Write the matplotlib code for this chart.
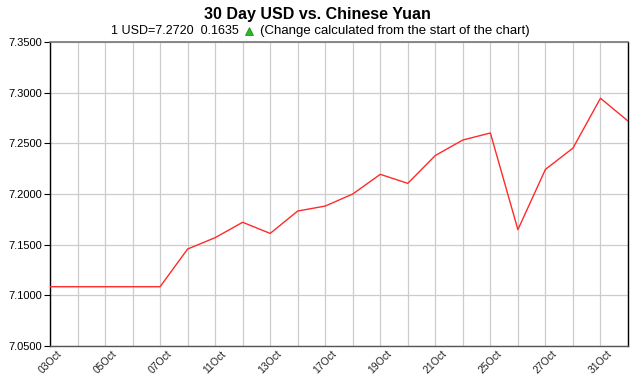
import matplotlib
matplotlib.use("Agg")
import matplotlib.pyplot as plt

# trading days, 03 Oct -> 01 Nov
dates = ["03Oct", "04Oct", "05Oct", "06Oct", "07Oct", "10Oct", "11Oct", "12Oct",
         "13Oct", "14Oct", "17Oct", "18Oct", "19Oct", "20Oct", "21Oct", "24Oct",
         "25Oct", "26Oct", "27Oct", "28Oct", "31Oct", "01Nov"]
rates = [7.1085, 7.1085, 7.1085, 7.1085, 7.1085, 7.1457, 7.1569, 7.1721,
         7.1611, 7.1832, 7.1881, 7.2000, 7.2194, 7.2105, 7.2380, 7.2533,
         7.2602, 7.1648, 7.2243, 7.2453, 7.2945, 7.2720]
yticks = [7.05, 7.10, 7.15, 7.20, 7.25, 7.30, 7.35]

plt.rcParams["font.family"] = ["Liberation Sans", "DejaVu Sans"]

fig = plt.figure(figsize=(6.36, 3.78), dpi=100)
W, H = 636, 378
ax = fig.add_axes([50 / W, 1 - 346 / H, 578 / W, 304 / H])

x = list(range(len(rates)))
ax.plot(x, rates, color="#ff2a2a", lw=1.0, zorder=3)

ax.set_xlim(0, len(rates) - 1)
ax.set_ylim(7.05, 7.35)
ax.set_yticks(yticks)
ax.set_yticklabels([f"{v:.4f}" for v in yticks], fontsize=8)
ax.set_xticks(x)
ax.set_xticklabels([d if i % 2 == 0 else "" for i, d in enumerate(dates)],
                   rotation=45, ha="center", fontsize=7.5, color="#222222")
ax.tick_params(axis="x", length=0, pad=2)
ax.tick_params(axis="y", length=4, width=0.8, pad=2, direction="out")
ax.grid(True, color="#cccccc", lw=0.9, zorder=0)

for s in ["left", "bottom", "right"]:
    ax.spines[s].set_color("black")
    ax.spines[s].set_linewidth(1.0)
ax.spines["top"].set_color("#777777")
ax.spines["top"].set_linewidth(1.2)
ax.spines["bottom"].set_color("#555555")

fig.text(317 / W, 1 - 15 / H, "30 Day USD vs. Chinese Yuan", ha="center", va="center",
         fontsize=11.5, fontweight="bold")
fig.text(239 / W, 1 - 31 / H, "1 USD=7.2720  0.1635", ha="right", va="center", fontsize=9)
fig.text(260 / W, 1 - 31 / H, "(Change calculated from the start of the chart)",
         ha="left", va="center", fontsize=9.5)
fig.lines.append(plt.Line2D([249 / W], [1 - 31 / H], marker="^", markersize=5.5,
                            color="#22bb22", markeredgecolor="#118811", markeredgewidth=0.5,
                            transform=fig.transFigure))

fig.savefig("out.png", dpi=100)
